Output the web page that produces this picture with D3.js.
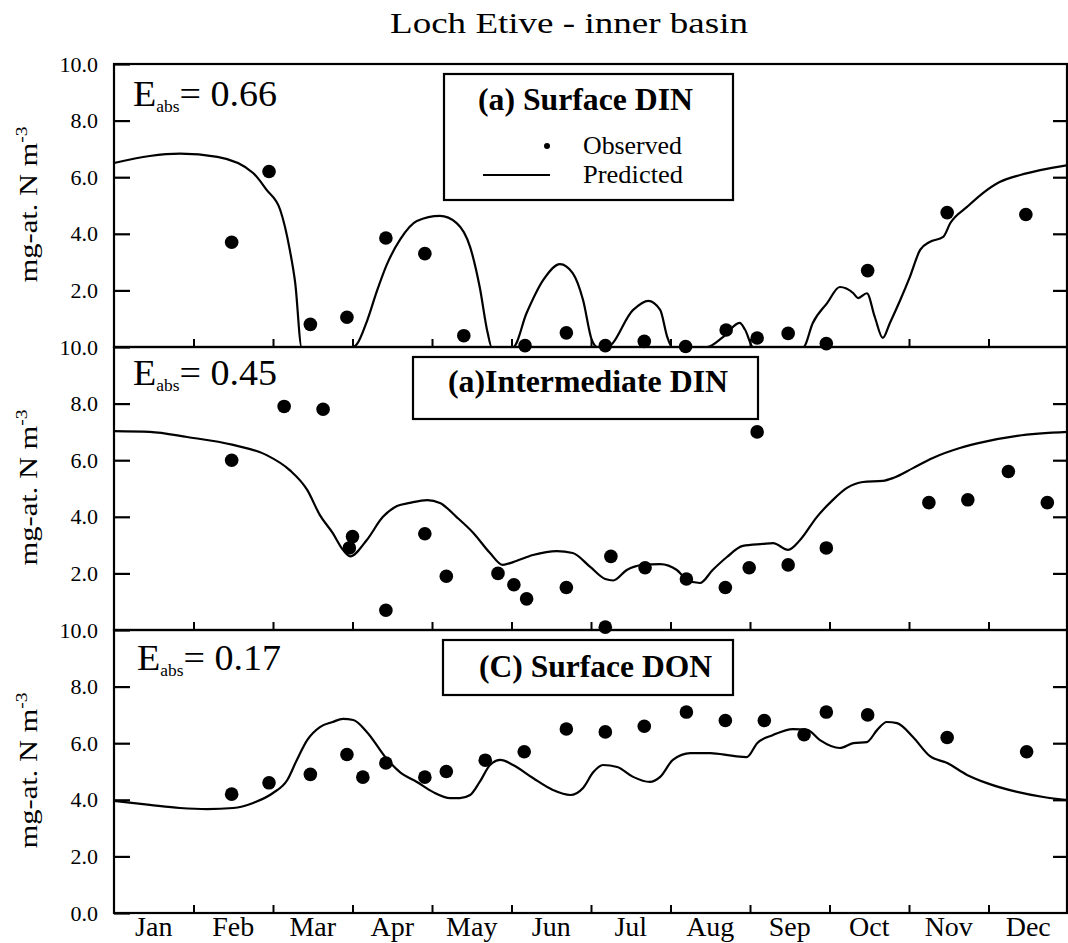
<!DOCTYPE html>
<html>
<head>
<meta charset="utf-8">
<script src="https://cdn.jsdelivr.net/npm/d3@7"></script>
<style>
  html, body { margin: 0; padding: 0; background: #fff; }
  svg { display: block; }
  text { font-family: "Liberation Serif", "Times New Roman", serif; fill: #000; }
</style>
</head>
<body>
<svg id="chart" width="1068" height="943"></svg>
<script>
// Month names along the time axis (time measured in months from 1 Jan)
const months = ["Jan", "Feb", "Mar", "Apr", "May", "Jun", "Jul", "Aug", "Sep", "Oct", "Nov", "Dec"];
const monthBounds = [1, 2, 3, 4, 5, 6, 7, 8, 9, 10, 11];
const yTickValues = [2, 4, 6, 8, 10];

// (a) Surface DIN, mg-at. N m^-3
const surfaceDinObserved = [
  [1.48, 3.7], [1.95, 6.2], [2.47, 0.8], [2.93, 1.05], [3.42, 3.85], [3.91, 3.3],
  [4.40, 0.4], [5.17, 0.05], [5.69, 0.5], [6.18, 0.05], [6.67, 0.2], [7.19, 0.02],
  [7.70, 0.6], [8.09, 0.32], [8.48, 0.48], [8.96, 0.12], [9.48, 2.7], [10.48, 4.75],
  [11.47, 4.68]
];
const surfaceDinPredicted = [
  [0, 6.5], [0.45, 6.75], [0.83, 6.83], [1.30, 6.72], [1.75, 6.15], [1.92, 5.55],
  [2.09, 4.85], [2.21, 3.45], [2.28, 2.25], [2.36, 0], [3.01, 0], [3.06, 0.12],
  [3.18, 0.9], [3.31, 2.0], [3.43, 2.9], [3.60, 3.8], [3.81, 4.45], [4.10, 4.63],
  [4.31, 4.38], [4.48, 3.53], [4.60, 2.12], [4.70, 0.5], [4.75, 0], [5.02, 0],
  [5.19, 1.2], [5.40, 2.37], [5.61, 2.93], [5.77, 2.61], [5.90, 1.66], [6.01, 0.25],
  [6.08, 0], [6.20, 0], [6.53, 1.31], [6.72, 1.63], [6.87, 1.31], [6.96, 0.35],
  [7.02, 0], [7.46, 0], [7.66, 0.35], [7.87, 0.85], [7.94, 0.6], [8.04, 0],
  [8.67, 0], [8.79, 0.85], [8.97, 1.55], [9.13, 2.12], [9.30, 1.9], [9.36, 1.73],
  [9.47, 1.9], [9.57, 1.06], [9.67, 0.32], [9.76, 0.85], [9.89, 1.66], [10.01, 2.47],
  [10.14, 3.43], [10.26, 3.71], [10.43, 3.89], [10.52, 4.38], [10.73, 4.95],
  [10.93, 5.44], [11.14, 5.83], [11.40, 6.08], [11.65, 6.25], [12.0, 6.43]
];

// (a) Intermediate DIN
const intermediateDinObserved = [
  [1.48, 6.0], [2.14, 7.9], [2.63, 7.8], [2.96, 2.9], [3.0, 3.3], [3.42, 0.7],
  [3.91, 3.4], [4.18, 1.9], [4.83, 2.0], [5.03, 1.6], [5.19, 1.1], [5.69, 1.5],
  [6.18, 0.1], [6.25, 2.6], [6.68, 2.2], [7.20, 1.8], [7.69, 1.5], [7.99, 2.2],
  [8.09, 7.0], [8.48, 2.3], [8.96, 2.9], [10.25, 4.5], [10.74, 4.6], [11.25, 5.6],
  [11.74, 4.5]
];
const intermediateDinPredicted = [
  [0, 7.03], [0.45, 7.0], [0.92, 6.82], [1.50, 6.54], [1.92, 6.18], [2.21, 5.65],
  [2.43, 4.95], [2.59, 4.06], [2.75, 3.43], [2.88, 2.83], [2.97, 2.6], [3.18, 3.18],
  [3.38, 3.99], [3.56, 4.38], [3.72, 4.49], [3.94, 4.59], [4.10, 4.49], [4.31, 3.99],
  [4.52, 3.43], [4.73, 2.72], [4.89, 2.3], [5.02, 2.4], [5.27, 2.65], [5.57, 2.79],
  [5.77, 2.72], [5.99, 2.23], [6.18, 1.8], [6.28, 1.75], [6.45, 2.12], [6.65, 2.3],
  [6.87, 2.33], [7.08, 2.12], [7.21, 1.77], [7.37, 1.66], [7.53, 2.12], [7.71, 2.58],
  [7.91, 2.97], [8.16, 3.04], [8.29, 3.07], [8.48, 2.83], [8.63, 3.18], [8.84, 3.99],
  [9.04, 4.59], [9.22, 5.02], [9.42, 5.23], [9.67, 5.27], [9.80, 5.37], [10.05, 5.72],
  [10.30, 6.08], [10.64, 6.43], [10.93, 6.64], [11.36, 6.86], [12.0, 7.0]
];

// (C) Surface DON
const surfaceDonObserved = [
  [1.48, 4.2], [1.95, 4.6], [2.47, 4.9], [2.93, 5.6], [3.13, 4.8], [3.42, 5.3],
  [3.91, 4.8], [4.18, 5.0], [4.67, 5.4], [5.16, 5.7], [5.69, 6.5], [6.18, 6.4],
  [6.67, 6.6], [7.20, 7.1], [7.69, 6.8], [8.18, 6.8], [8.68, 6.3], [8.96, 7.1],
  [9.48, 7.0], [10.48, 6.2], [11.48, 5.7]
];
const surfaceDonPredicted = [
  [0, 3.96], [0.45, 3.82], [0.83, 3.71], [1.17, 3.67], [1.50, 3.71], [1.75, 3.89],
  [2.0, 4.24], [2.18, 4.7], [2.30, 5.41], [2.43, 6.11], [2.59, 6.57], [2.75, 6.75],
  [2.88, 6.86], [3.01, 6.82], [3.18, 6.4], [3.43, 5.45], [3.60, 4.97], [3.81, 4.63],
  [4.01, 4.28], [4.23, 4.06], [4.35, 4.06], [4.48, 4.17], [4.60, 4.63], [4.73, 5.23],
  [4.86, 5.41], [5.02, 5.23], [5.27, 4.77], [5.52, 4.35], [5.74, 4.17], [5.90, 4.42],
  [6.03, 4.98], [6.15, 5.23], [6.33, 5.16], [6.53, 4.81], [6.74, 4.63], [6.87, 4.81],
  [7.03, 5.41], [7.25, 5.65], [7.50, 5.65], [7.79, 5.55], [7.96, 5.51], [8.09, 6.0],
  [8.29, 6.29], [8.54, 6.5], [8.72, 6.47], [8.88, 6.11], [9.13, 5.83], [9.30, 6.0],
  [9.47, 6.04], [9.60, 6.47], [9.72, 6.75], [9.85, 6.71], [10.05, 6.22], [10.26, 5.55],
  [10.48, 5.3], [10.73, 4.88], [10.98, 4.59], [11.36, 4.28], [11.69, 4.1], [12.0, 3.99]
];

const chartTitle = "Loch Etive - inner basin";
const panelTitles = ["(a) Surface DIN", "(a)Intermediate DIN", "(C) Surface DON"];
const efficiencies = ["0.66", "0.45", "0.17"];

// ---------- layout ----------
const svg = d3.select("#chart");
const left = 114, right = 1068;
const panelTops = [64, 347, 630];
const panelH = 283;

const x = d3.scaleLinear().domain([0, 12]).range([left, right]);
const xMonth = d3.scaleBand().domain(months).range([left, right]);
const fmt = d3.format(".1f");

svg.append("text")
  .attr("x", 569).attr("y", 33)
  .attr("text-anchor", "middle")
  .attr("font-size", 30)
  .attr("textLength", 358).attr("lengthAdjust", "spacingAndGlyphs")
  .text(chartTitle);

const panels = [
  { obs: surfaceDinObserved, pred: surfaceDinPredicted },
  { obs: intermediateDinObserved, pred: intermediateDinPredicted },
  { obs: surfaceDonObserved, pred: surfaceDonPredicted }
];

panels.forEach((p, i) => {
  const top = panelTops[i], bottom = top + panelH;
  const y = d3.scaleLinear().domain([0, 10]).range([bottom, top]);
  const g = svg.append("g");

  // left axis: inward ticks, one-decimal labels
  const leftTicks = i === 2 ? [0].concat(yTickValues) : yTickValues;
  const la = g.append("g").attr("transform", `translate(${left},0)`)
    .call(d3.axisLeft(y).tickValues(leftTicks).tickSizeInner(-16).tickSizeOuter(0)
      .tickPadding(16).tickFormat(fmt));
  la.select(".domain").remove();
  la.selectAll("line").attr("stroke", "#000").attr("stroke-width", 2.2);
  la.selectAll("text").attr("font-size", 22).attr("font-family", null);

  // right axis: inward ticks, no labels
  const ra = g.append("g").attr("transform", `translate(${right},0)`)
    .call(d3.axisRight(y).tickValues([2, 4, 6, 8]).tickSizeInner(-15).tickSizeOuter(0).tickFormat(""));
  ra.select(".domain").remove();
  ra.selectAll("line").attr("stroke", "#000").attr("stroke-width", 2.2);

  // bottom axis: month boundaries, ticks pointing up
  const ba = g.append("g").attr("transform", `translate(0,${bottom})`)
    .call(d3.axisBottom(x).tickValues(monthBounds).tickSizeInner(-8).tickSizeOuter(0).tickFormat(""));
  ba.select(".domain").remove();
  ba.selectAll("line").attr("stroke", "#000").attr("stroke-width", 2);

  // frame
  g.append("rect")
    .attr("x", left).attr("y", top)
    .attr("width", right - left - 1).attr("height", panelH)
    .attr("fill", "none").attr("stroke", "#000").attr("stroke-width", 2.2);

  // predicted curve
  const line = d3.line()
    .x(d => x(d[0])).y(d => y(d[1]))
    .curve(d3.curveMonotoneX);
  g.append("path")
    .datum(p.pred)
    .attr("d", line)
    .attr("fill", "none").attr("stroke", "#000").attr("stroke-width", 2.2)
    .attr("stroke-linejoin", "round");

  // observed points
  g.selectAll("circle.obs").data(p.obs).join("circle")
    .attr("class", "obs")
    .attr("cx", d => x(d[0])).attr("cy", d => y(d[1]))
    .attr("r", 6.8).attr("fill", "#000");

  // model efficiency label
  const eBase = [106, 385, 670][i];
  const eX = [133, 133, 137][i];
  const et = g.append("text")
    .attr("x", eX).attr("y", eBase)
    .attr("font-size", 35)
    .attr("textLength", 144).attr("lengthAdjust", "spacingAndGlyphs");
  et.append("tspan").text("E");
  et.append("tspan").attr("font-size", 16).attr("dy", 6).text("abs");
  et.append("tspan").attr("dy", -6).text("= " + efficiencies[i]);
});

// panel title boxes
const boxes = [
  { x: 444, y: 74, w: 289, h: 126, tx: 478, ty: 110, tl: 215 },
  { x: 413, y: 357, w: 345, h: 62, tx: 448, ty: 392, tl: 280 },
  { x: 443, y: 640, w: 290, h: 55, tx: 479, ty: 677, tl: 233 }
];
boxes.forEach((b, i) => {
  svg.append("rect")
    .attr("x", b.x).attr("y", b.y).attr("width", b.w).attr("height", b.h)
    .attr("fill", "#fff").attr("stroke", "#000").attr("stroke-width", 2.2);
  svg.append("text")
    .attr("x", b.tx).attr("y", b.ty)
    .attr("font-size", 31).attr("font-weight", "bold")
    .attr("textLength", b.tl).attr("lengthAdjust", "spacingAndGlyphs")
    .text(panelTitles[i]);
});

// legend inside first box
svg.append("circle").attr("cx", 547).attr("cy", 146).attr("r", 3).attr("fill", "#000");
svg.append("text").attr("x", 583).attr("y", 154).attr("font-size", 25)
  .attr("textLength", 99).attr("lengthAdjust", "spacingAndGlyphs").text("Observed");
svg.append("line").attr("x1", 483).attr("x2", 550).attr("y1", 175).attr("y2", 175)
  .attr("stroke", "#000").attr("stroke-width", 2.2);
svg.append("text").attr("x", 583).attr("y", 183).attr("font-size", 25)
  .attr("textLength", 100).attr("lengthAdjust", "spacingAndGlyphs").text("Predicted");

// month labels under the lowest panel
const ma = svg.append("g").attr("transform", `translate(0,${panelTops[2] + panelH})`)
  .call(d3.axisBottom(xMonth).tickSize(0).tickPadding(3));
ma.select(".domain").remove();
ma.selectAll("text").attr("font-size", 28).attr("font-family", null);

// y-axis titles
panelTops.forEach(top => {
  const cy = top + panelH / 2 - 1;
  const t = svg.append("text")
    .attr("transform", `translate(37,${cy}) rotate(-90)`)
    .attr("text-anchor", "middle")
    .attr("font-size", 25)
    .attr("textLength", 156).attr("lengthAdjust", "spacingAndGlyphs");
  t.append("tspan").text("mg-at. N m");
  t.append("tspan").attr("font-size", 16).attr("dy", -10).text("-3");
});
</script>
</body>
</html>
